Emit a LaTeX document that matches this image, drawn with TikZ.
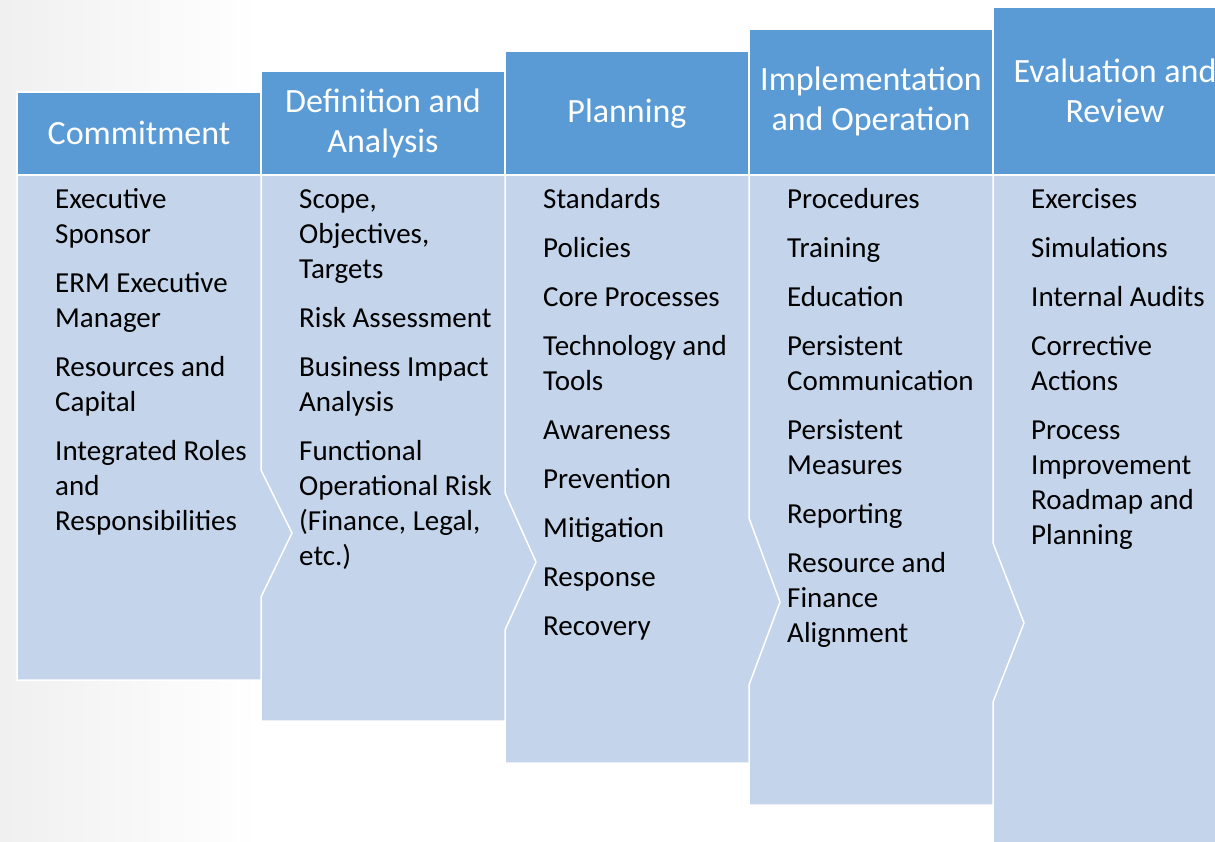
\documentclass[tikz,border=0pt]{standalone}
\usepackage{fontspec}
\setmainfont{Carlito}
\definecolor{hdrblue}{HTML}{5B9BD5}
\definecolor{bodyblue}{HTML}{C4D4EA}
\begin{document}
\begin{tikzpicture}[x=1pt,y=-1pt,
  hdrbox/.style={fill=hdrblue, draw=white, line width=1.5pt},
  bodybox/.style={fill=bodyblue, draw=white, line width=1.5pt, line join=miter},
  hdrtext/.style={text=white, font=\fontsize{34}{40}\selectfont, align=center, inner sep=0pt},
  bodytext/.style={text=black, font=\fontsize{29}{35}\selectfont, align=left, anchor=north west, inner sep=0pt},
]
\clip (0,0) rectangle (1215,842);
\fill[white] (0,0) rectangle (1215,842);
\shade[left color=black!6, right color=white] (0,0) rectangle (260,842);

% Column 5
\path[bodybox] (993,175) -- (1237,175) -- (1237,860) -- (993,860) -- cycle;
\path[hdrbox] (993,7) rectangle (1237,175);
\node[hdrtext] (h5) at (1115,91) {Evaluation and\\Review};
\node[bodytext] (b5) at (1031,183.5) {\strut Exercises\\[14pt]Simulations\\[14pt]Internal Audits\\[14pt]Corrective\\Actions\\[14pt]Process\\Improvement\\Roadmap and\\Planning};

% Column 4
\path[bodybox] (749,175) -- (993,175) -- (993,543) -- (1024,623) -- (993,702) -- (993,805) -- (749,805) -- cycle;
\path[hdrbox] (749,29) rectangle (993,175);
\node[hdrtext] (h4) at (871,101) {Implementation\\and Operation};
\node[bodytext] (b4) at (787,183.5) {\strut Procedures\\[14pt]Training\\[14pt]Education\\[14pt]Persistent\\Communication\\[14pt]Persistent\\Measures\\[14pt]Reporting\\[14pt]Resource and\\Finance\\Alignment};

% Column 3
\path[bodybox] (505,175) -- (749,175) -- (749,518) -- (780,602) -- (749,685) -- (749,763) -- (505,763) -- cycle;
\path[hdrbox] (505,51) rectangle (749,175);
\node[hdrtext] (h3) at (627,114) {Planning};
\node[bodytext] (b3) at (543,183.5) {\strut Standards\\[14pt]Policies\\[14pt]Core Processes\\[14pt]Technology and\\Tools\\[14pt]Awareness\\[14pt]Prevention\\[14pt]Mitigation\\[14pt]Response\\[14pt]Recovery};

% Column 2
\path[bodybox] (261,175) -- (505,175) -- (505,493) -- (536,562) -- (505,630) -- (505,721) -- (261,721) -- cycle;
\path[hdrbox] (261,71) rectangle (505,175);
\node[hdrtext] (h2) at (383,123) {Definition and\\Analysis};
\node[bodytext] (b2) at (299,183.5) {\strut Scope,\\Objectives,\\Targets\\[14pt]Risk Assessment\\[14pt]Business Impact\\Analysis\\[14pt]Functional\\Operational Risk\\(Finance, Legal,\\etc.)};

% Column 1
\path[bodybox] (17,175) -- (261,175) -- (261,470) -- (292,533) -- (261,597) -- (261,680) -- (17,680) -- cycle;
\path[hdrbox] (17,92) rectangle (261,175);
\node[hdrtext] (h1) at (139,133) {Commitment};
\node[bodytext] (b1) at (55,183.5) {\strut Executive\\Sponsor\\[14pt]ERM Executive\\Manager\\[14pt]Resources and\\Capital\\[14pt]Integrated Roles\\and\\Responsibilities};
\end{tikzpicture}
\end{document}
